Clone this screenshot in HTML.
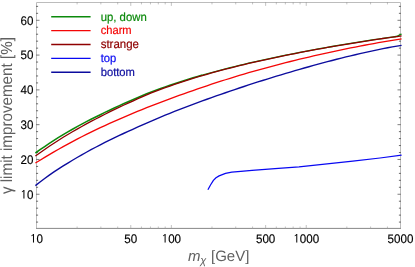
<!DOCTYPE html>
<html><head><meta charset="utf-8"><style>
html,body{margin:0;padding:0;background:#fff;}
svg{display:block;will-change:transform;font-family:"Liberation Sans",sans-serif;text-rendering:geometricPrecision;}
</style></head><body>
<svg width="415" height="267" viewBox="0 0 415 267">
<rect width="415" height="267" fill="#fff"/>
<path d="M36.5,228.4V2.5H400.5V228.4" fill="none" stroke="#bcbcbc" stroke-width="1"/>
<path d="M36.0,228.4H401.0" fill="none" stroke="#888" stroke-width="1"/>
<path d="M36.0,222.08h2.1 M401.0,222.08h-2.1 M36.0,215.12h2.1 M401.0,215.12h-2.1 M36.0,208.17h2.1 M401.0,208.17h-2.1 M36.0,201.21h2.1 M401.0,201.21h-2.1 M36.0,187.29h2.1 M401.0,187.29h-2.1 M36.0,180.33h2.1 M401.0,180.33h-2.1 M36.0,173.38h2.1 M401.0,173.38h-2.1 M36.0,166.42h2.1 M401.0,166.42h-2.1 M36.0,152.50h2.1 M401.0,152.50h-2.1 M36.0,145.54h2.1 M401.0,145.54h-2.1 M36.0,138.59h2.1 M401.0,138.59h-2.1 M36.0,131.63h2.1 M401.0,131.63h-2.1 M36.0,117.71h2.1 M401.0,117.71h-2.1 M36.0,110.75h2.1 M401.0,110.75h-2.1 M36.0,103.80h2.1 M401.0,103.80h-2.1 M36.0,96.84h2.1 M401.0,96.84h-2.1 M36.0,82.92h2.1 M401.0,82.92h-2.1 M36.0,75.96h2.1 M401.0,75.96h-2.1 M36.0,69.01h2.1 M401.0,69.01h-2.1 M36.0,62.05h2.1 M401.0,62.05h-2.1 M36.0,48.13h2.1 M401.0,48.13h-2.1 M36.0,41.17h2.1 M401.0,41.17h-2.1 M36.0,34.22h2.1 M401.0,34.22h-2.1 M36.0,27.26h2.1 M401.0,27.26h-2.1 M36.0,13.34h2.1 M401.0,13.34h-2.1 M36.0,6.38h2.1 M401.0,6.38h-2.1" stroke="#5c5c5c" stroke-width="0.9" fill="none"/>
<path d="M36.0,194.25h3.5 M401.0,194.25h-3.5 M36.0,159.46h3.5 M401.0,159.46h-3.5 M36.0,124.67h3.5 M401.0,124.67h-3.5 M36.0,89.88h3.5 M401.0,89.88h-3.5 M36.0,55.09h3.5 M401.0,55.09h-3.5 M36.0,20.30h3.5 M401.0,20.30h-3.5" stroke="#707070" stroke-width="0.9" fill="none"/>
<path d="M77.10,228.9v-2.4 M77.10,2.0v2.4 M100.85,228.9v-2.4 M100.85,2.0v2.4 M117.70,228.9v-2.4 M117.70,2.0v2.4 M130.77,228.9v-3.9 M130.77,2.0v3.9 M141.45,228.9v-2.4 M141.45,2.0v2.4 M150.48,228.9v-2.4 M150.48,2.0v2.4 M158.30,228.9v-2.4 M158.30,2.0v2.4 M165.20,228.9v-2.4 M165.20,2.0v2.4 M171.37,228.9v-3.9 M171.37,2.0v3.9 M211.97,228.9v-2.4 M211.97,2.0v2.4 M235.72,228.9v-2.4 M235.72,2.0v2.4 M252.57,228.9v-2.4 M252.57,2.0v2.4 M265.64,228.9v-3.9 M265.64,2.0v3.9 M276.32,228.9v-2.4 M276.32,2.0v2.4 M285.35,228.9v-2.4 M285.35,2.0v2.4 M293.17,228.9v-2.4 M293.17,2.0v2.4 M300.07,228.9v-2.4 M300.07,2.0v2.4 M306.24,228.9v-3.9 M306.24,2.0v3.9 M346.84,228.9v-2.4 M346.84,2.0v2.4 M370.59,228.9v-2.4 M370.59,2.0v2.4 M387.44,228.9v-2.4 M387.44,2.0v2.4" stroke="#9a9a9a" stroke-width="0.6" fill="none"/>
<path d="M207.90,189.70 L210.50,185.00 L213.40,180.40 L216.00,177.80 L219.10,175.90 L225.50,173.40 L231.80,172.10 L240.80,171.30 L252.00,170.40 L275.00,168.70 L299.00,166.80 L352.80,161.20 L380.00,158.00 L401.60,155.20" stroke="#0808f2" stroke-width="1.25" fill="none" stroke-linejoin="round"/>
<path d="M35.40,185.65 L40.04,182.05 L44.67,178.53 L49.31,175.08 L53.94,171.93 L58.58,168.90 L63.21,165.94 L67.85,163.07 L72.48,160.26 L77.12,157.53 L81.75,154.87 L86.39,152.26 L91.03,149.72 L95.66,147.24 L100.30,144.81 L104.93,142.45 L109.57,140.13 L114.20,137.87 L118.84,135.66 L123.47,133.50 L128.11,131.38 L132.74,129.30 L137.38,127.20 L142.02,125.11 L146.65,123.05 L151.29,121.04 L155.92,119.05 L160.56,117.10 L165.19,115.20 L169.83,113.32 L174.46,111.48 L179.10,109.66 L183.73,107.86 L188.37,106.10 L193.01,104.35 L197.64,102.63 L202.28,100.93 L206.91,99.25 L211.55,97.59 L216.18,95.95 L220.82,94.33 L225.45,92.73 L230.09,91.14 L234.72,89.57 L239.36,88.02 L243.99,86.48 L248.63,84.95 L253.27,83.44 L257.90,81.95 L262.54,80.48 L267.17,79.04 L271.81,77.61 L276.44,76.20 L281.08,74.80 L285.71,73.42 L290.35,72.05 L294.98,70.69 L299.62,69.36 L304.26,68.03 L308.89,66.73 L313.53,65.44 L318.16,64.16 L322.80,62.91 L327.43,61.68 L332.07,60.46 L336.70,59.27 L341.34,58.09 L345.97,56.94 L350.61,55.81 L355.25,54.71 L359.88,53.63 L364.52,52.58 L369.15,51.56 L373.79,50.57 L378.42,49.61 L383.06,48.68 L387.69,47.79 L392.33,46.93 L396.96,46.11 L401.60,45.32" stroke="#0c0c9e" stroke-width="1.38" fill="none" stroke-linejoin="round"/>
<path d="M35.40,163.06 L40.04,160.20 L44.67,157.39 L49.31,154.63 L53.94,151.93 L58.58,149.28 L63.21,146.67 L67.85,144.12 L72.48,141.61 L77.12,139.15 L81.75,136.75 L86.39,134.43 L91.03,132.15 L95.66,129.91 L100.30,127.71 L104.93,125.56 L109.57,123.44 L114.20,121.36 L118.84,119.31 L123.47,117.30 L128.11,115.33 L132.74,113.39 L137.38,111.47 L142.02,109.57 L146.65,107.70 L151.29,105.86 L155.92,104.06 L160.56,102.28 L165.19,100.53 L169.83,98.81 L174.46,97.12 L179.10,95.45 L183.73,93.81 L188.37,92.17 L193.01,90.54 L197.64,88.93 L202.28,87.34 L206.91,85.78 L211.55,84.24 L216.18,82.72 L220.82,81.22 L225.45,79.75 L230.09,78.29 L234.72,76.86 L239.36,75.44 L243.99,74.05 L248.63,72.67 L253.27,71.34 L257.90,70.05 L262.54,68.78 L267.17,67.52 L271.81,66.28 L276.44,65.06 L281.08,63.86 L285.71,62.67 L290.35,61.50 L294.98,60.35 L299.62,59.22 L304.26,58.11 L308.89,57.01 L313.53,55.93 L318.16,54.87 L322.80,53.82 L327.43,52.80 L332.07,51.79 L336.70,50.80 L341.34,49.82 L345.97,48.87 L350.61,47.93 L355.25,47.02 L359.88,46.12 L364.52,45.24 L369.15,44.38 L373.79,43.54 L378.42,42.72 L383.06,41.92 L387.69,41.14 L392.33,40.38 L396.96,39.65 L401.60,38.93" stroke="#f40606" stroke-width="1.3" fill="none" stroke-linejoin="round"/>
<path d="M35.40,153.00 L40.04,149.74 L44.67,146.55 L49.31,143.44 L53.94,140.40 L58.58,137.45 L63.21,134.63 L67.85,131.89 L72.48,129.23 L77.12,126.63 L81.75,124.11 L86.39,121.67 L91.03,119.29 L95.66,116.97 L100.30,114.70 L104.93,112.42 L109.57,110.20 L114.20,108.00 L118.84,105.85 L123.47,103.76 L128.11,101.71 L132.74,99.72 L137.38,97.71 L142.02,95.73 L146.65,93.79 L151.29,91.94 L155.92,90.22 L160.56,88.54 L165.19,86.88 L169.83,85.27 L174.46,83.69 L179.10,82.14 L183.73,80.64 L188.37,79.19 L193.01,77.80 L197.64,76.45 L202.28,75.11" stroke="#0c8a0c" stroke-width="1.55" fill="none" stroke-linejoin="round"/>
<path d="M202.28,75.11 L206.91,73.80 L211.55,72.51 L216.18,71.26 L220.82,70.03 L225.45,68.83 L230.09,67.66 L234.72,66.51 L239.36,65.38 L243.99,64.28 L248.63,63.20 L253.27,62.14 L257.90,61.09 L262.54,60.06 L267.17,59.05 L271.81,58.07 L276.44,57.10 L281.08,56.15 L285.71,55.22 L290.35,54.31 L294.98,53.38 L299.62,52.48 L304.26,51.58 L308.89,50.69 L313.53,49.82 L318.16,48.97 L322.80,48.13 L327.43,47.30 L332.07,46.49 L336.70,45.69 L341.34,44.90 L345.97,44.13 L350.61,43.37 L355.25,42.62 L359.88,41.88 L364.52,41.15 L369.15,40.43 L373.79,39.73 L378.42,39.04 L383.06,38.35 L387.69,37.68 L392.33,37.02 L396.00,36.50 L396.96,36.19 L397.00,36.18 L398.00,35.86 L398.50,35.70 L399.00,35.37 L399.50,35.03 L400.00,34.70 L400.50,34.55 L401.00,34.41 L401.60,34.24" stroke="#0c8a0c" stroke-width="1.3" fill="none" stroke-linejoin="round"/>
<path d="M35.40,156.00 L40.04,152.69 L44.67,149.46 L49.31,146.31 L53.94,143.23 L58.58,140.22 L63.21,137.32 L67.85,134.50 L72.48,131.76 L77.12,129.08 L81.75,126.47 L86.39,123.92 L91.03,121.43 L95.66,119.00 L100.30,116.63 L104.93,114.24 L109.57,111.91 L114.20,109.63 L118.84,107.40 L123.47,105.23 L128.11,103.11 L132.74,101.04 L137.38,98.96 L142.02,96.91 L146.65,94.90 L151.29,92.97 L155.92,91.18 L160.56,89.44 L165.19,87.73 L169.83,86.07 L174.46,84.44 L179.10,82.85 L183.73,81.30 L188.37,79.81 L193.01,78.37 L197.64,76.97 L202.28,75.60 L206.91,74.27 L211.55,72.96 L216.18,71.68 L220.82,70.43 L225.45,69.21 L230.09,68.02 L234.72,66.85 L239.36,65.70 L243.99,64.57 L248.63,63.47 L253.27,62.39 L257.90,61.33 L262.54,60.29 L267.17,59.28 L271.81,58.28 L276.44,57.30 L281.08,56.34 L285.71,55.40 L290.35,54.48 L294.98,53.54 L299.62,52.63 L304.26,51.73 L308.89,50.84 L313.53,49.97 L318.16,49.12 L322.80,48.28 L327.43,47.45 L332.07,46.64 L336.70,45.84 L341.34,45.05 L345.97,44.28 L350.61,43.52 L355.25,42.77 L359.88,42.03 L364.52,41.30 L369.15,40.58 L373.79,39.88 L378.42,39.19 L383.06,38.50 L387.69,37.83 L392.33,37.17 L396.96,36.52 L401.60,35.88" stroke="#8f0000" stroke-width="1.3" fill="none" stroke-linejoin="round"/>
<path d="M51.2,16.75H90.6" stroke="#0c8a0c" stroke-width="1.3"/>
<text transform="translate(100.7,20.55) scale(1,1.05)" font-size="11.34" fill="#0c8a0c" stroke="#0c8a0c" stroke-width="0.2">up, down</text>
<path d="M51.2,30.62H90.6" stroke="#f40606" stroke-width="1.3"/>
<text transform="translate(100.7,34.42) scale(1,1.05)" font-size="11.15" fill="#f40606" stroke="#f40606" stroke-width="0.2">charm</text>
<path d="M51.2,44.49H90.6" stroke="#8f0000" stroke-width="1.3"/>
<text transform="translate(100.7,48.29) scale(1,1.05)" font-size="11.45" fill="#8f0000" stroke="#8f0000" stroke-width="0.2">strange</text>
<path d="M51.2,58.36H90.6" stroke="#0808f2" stroke-width="1.3"/>
<text transform="translate(100.7,62.16) scale(1,1.05)" font-size="11.2" fill="#0808f2" stroke="#0808f2" stroke-width="0.2">top</text>
<path d="M51.2,72.23H90.6" stroke="#0c0c9e" stroke-width="1.3"/>
<text transform="translate(100.7,76.03) scale(1,1.05)" font-size="11.2" fill="#0c0c9e" stroke="#0c0c9e" stroke-width="0.2">bottom</text>
<path transform="translate(20.50,198.60) scale(0.005664,-0.006061)" d="M520 0V1200Q420 1090 250 1040V1170Q470 1260 560 1409H690V0Z" fill="#000" stroke="#000" stroke-width="8.8"/>
<text transform="translate(26.95,198.60) scale(1,1.07)" font-size="11.6" fill="#000" stroke="#000" stroke-width="0.15">0</text>
<text transform="translate(20.50,163.81) scale(1,1.07)" font-size="11.6" fill="#000" stroke="#000" stroke-width="0.15">20</text>
<text transform="translate(20.50,129.02) scale(1,1.07)" font-size="11.6" fill="#000" stroke="#000" stroke-width="0.15">30</text>
<text transform="translate(20.50,94.23) scale(1,1.07)" font-size="11.6" fill="#000" stroke="#000" stroke-width="0.15">40</text>
<text transform="translate(20.50,59.44) scale(1,1.07)" font-size="11.6" fill="#000" stroke="#000" stroke-width="0.15">50</text>
<text transform="translate(20.50,24.65) scale(1,1.07)" font-size="11.6" fill="#000" stroke="#000" stroke-width="0.15">60</text>
<path transform="translate(30.05,242.50) scale(0.005664,-0.006061)" d="M520 0V1200Q420 1090 250 1040V1170Q470 1260 560 1409H690V0Z" fill="#000" stroke="#000" stroke-width="8.8"/>
<text transform="translate(36.50,242.50) scale(1,1.07)" font-size="11.6" fill="#000" stroke="#000" stroke-width="0.15">0</text>
<text transform="translate(124.32,242.50) scale(1,1.07)" font-size="11.6" fill="#000" stroke="#000" stroke-width="0.15">50</text>
<path transform="translate(161.69,242.50) scale(0.005664,-0.006061)" d="M520 0V1200Q420 1090 250 1040V1170Q470 1260 560 1409H690V0Z" fill="#000" stroke="#000" stroke-width="8.8"/>
<text transform="translate(168.14,242.50) scale(1,1.07)" font-size="11.6" fill="#000" stroke="#000" stroke-width="0.15">00</text>
<text transform="translate(255.96,242.50) scale(1,1.07)" font-size="11.6" fill="#000" stroke="#000" stroke-width="0.15">500</text>
<path transform="translate(293.34,242.50) scale(0.005664,-0.006061)" d="M520 0V1200Q420 1090 250 1040V1170Q470 1260 560 1409H690V0Z" fill="#000" stroke="#000" stroke-width="8.8"/>
<text transform="translate(299.79,242.50) scale(1,1.07)" font-size="11.6" fill="#000" stroke="#000" stroke-width="0.15">000</text>
<text transform="translate(387.61,242.50) scale(1,1.07)" font-size="11.6" fill="#000" stroke="#000" stroke-width="0.15">5000</text>
<text x="188" y="260.6" font-size="15" fill="#606060"><tspan font-style="italic">m</tspan><tspan font-style="italic" font-size="11" dy="3" dx="-0.3">χ</tspan><tspan dy="-3" dx="0.6"> [GeV]</tspan></text>
<text transform="translate(11.9,115.6) rotate(-90) scale(1,1.06)" font-size="15.2" fill="#606060" text-anchor="middle">γ limit improvement [%]</text>
</svg>
</body></html>
